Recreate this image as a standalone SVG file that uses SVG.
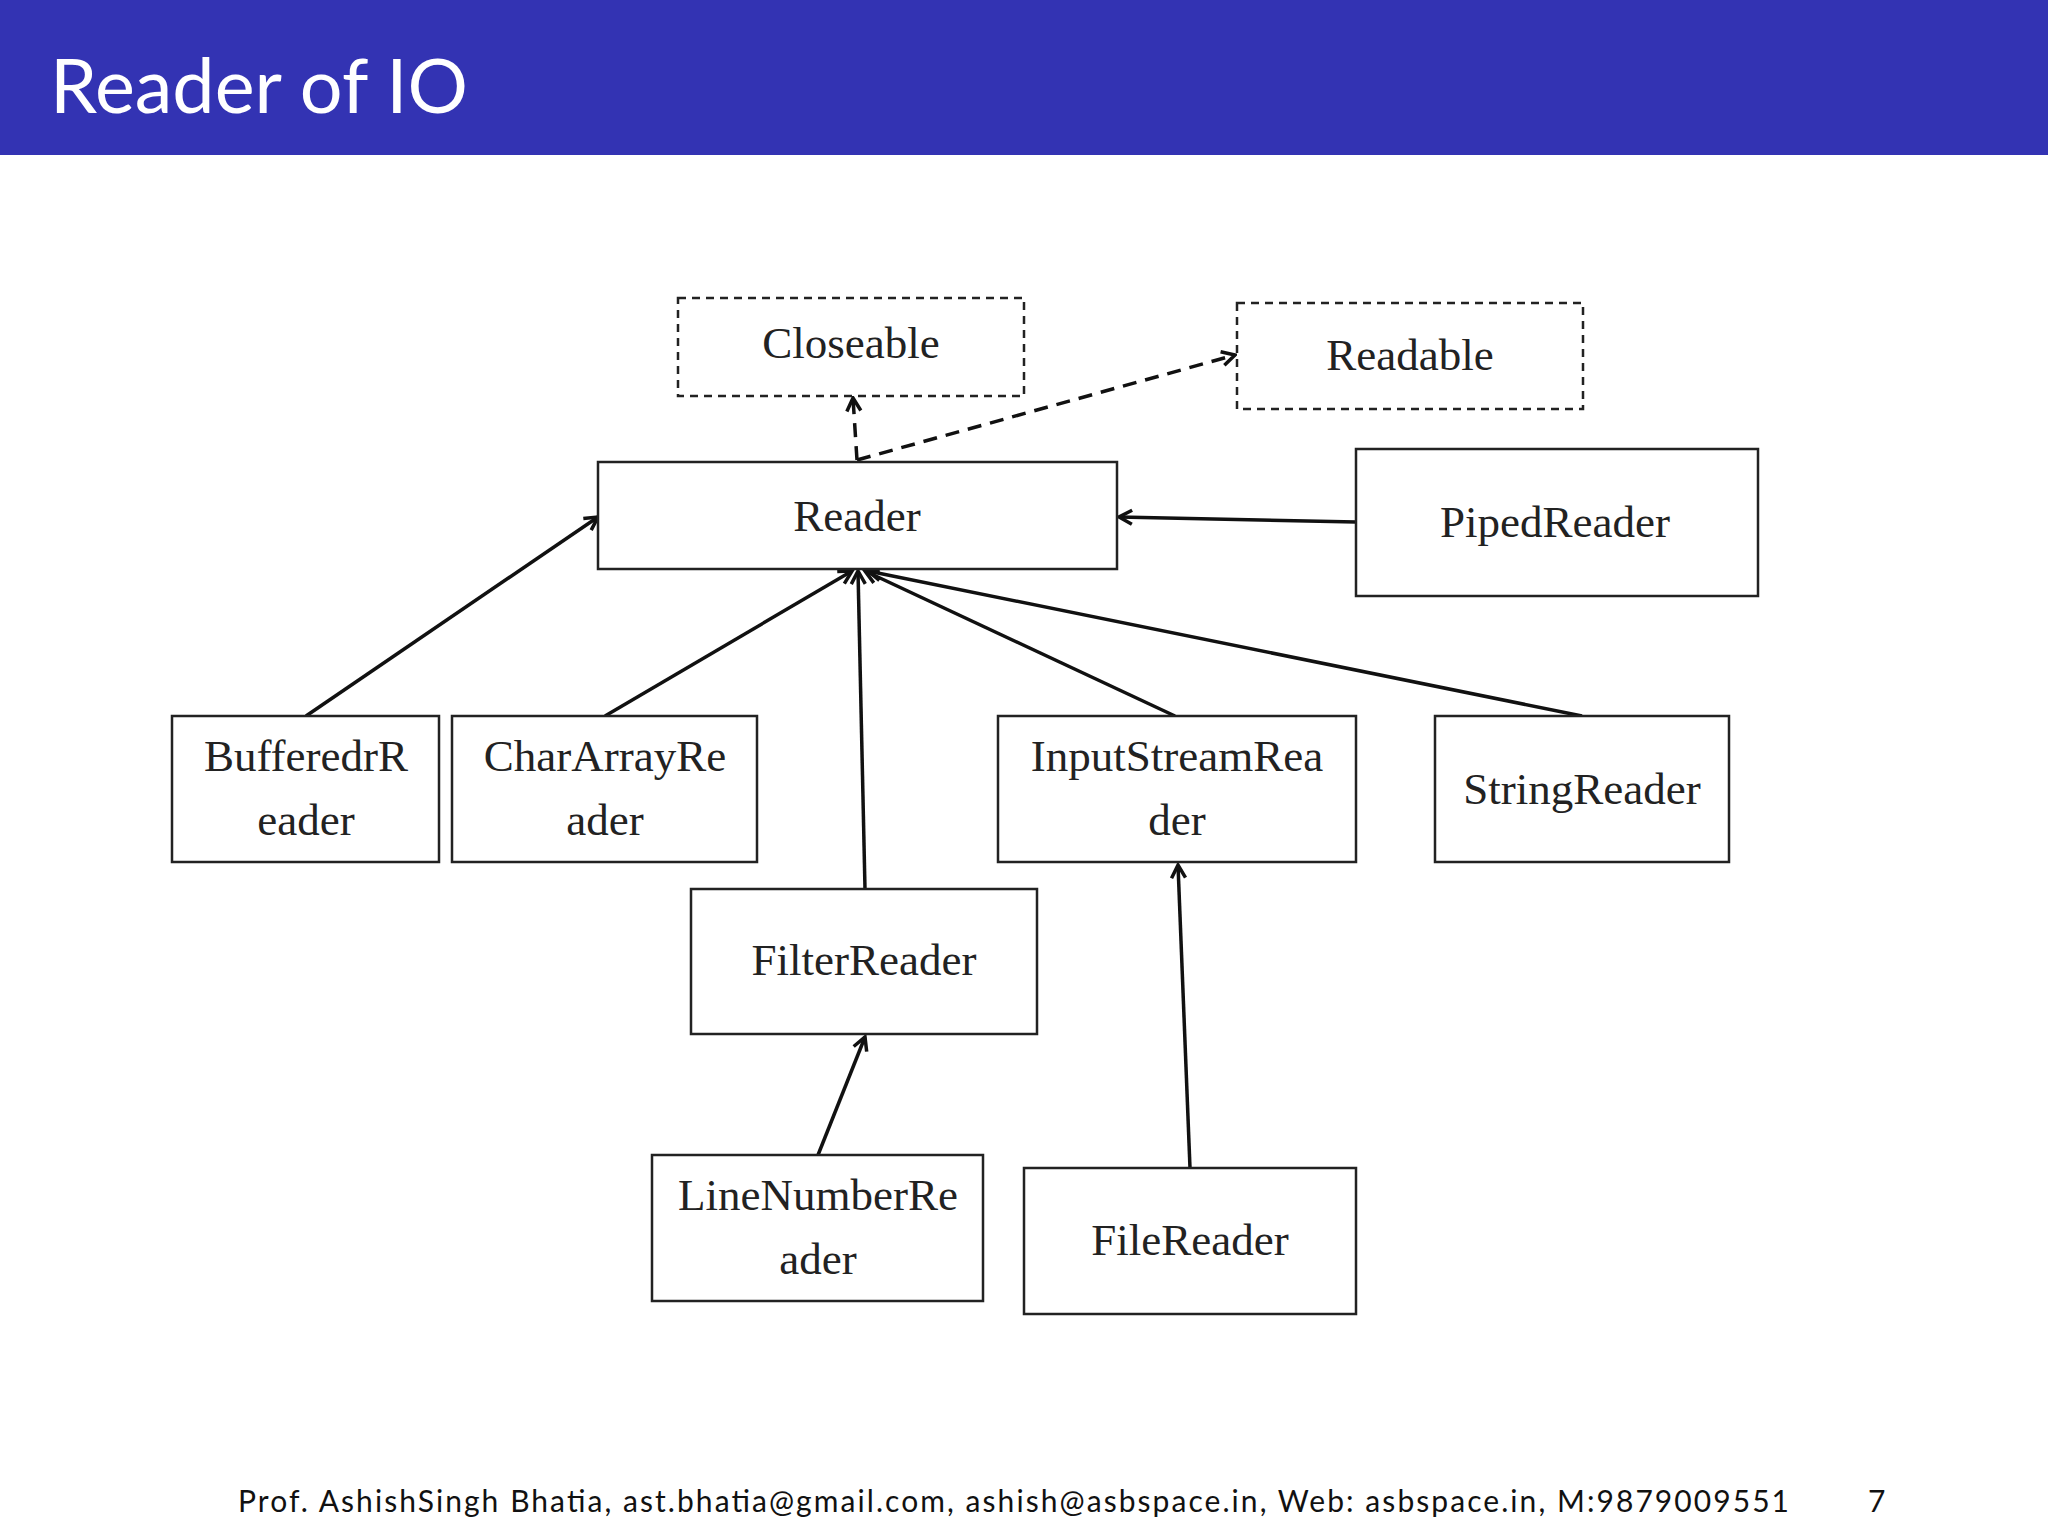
<svg xmlns="http://www.w3.org/2000/svg" width="2048" height="1536" viewBox="0 0 2048 1536">
<style>
.b{fill:#fff;stroke:#222;stroke-width:2.5}
.d{fill:#fff;stroke:#222;stroke-width:2.5;stroke-dasharray:8 6}
.t{font-family:"Liberation Serif",serif;font-size:45px;fill:#222;text-anchor:middle}
.c{stroke:#111;stroke-width:3.5;fill:none;marker-end:url(#a)}
.cd{stroke:#111;stroke-width:3.5;fill:none;stroke-dasharray:14 9;marker-end:url(#a)}
</style>
<defs><marker id="a" markerWidth="18" markerHeight="18" refX="15" refY="9" orient="auto" markerUnits="userSpaceOnUse"><path d="M2,2 L15,9 L2,16" fill="none" stroke="#111" stroke-width="3.5"/></marker></defs>
<rect width="2048" height="1536" fill="#fff"/>
<rect width="2048" height="155" fill="#3333b3"/>
<text x="50" y="113" font-family="Lato,'Liberation Sans',sans-serif" font-size="76" fill="#fff" textLength="418" lengthAdjust="spacingAndGlyphs">Reader of IO</text>
<g id="connectors">
<path class="cd" d="M857,460 L853,398"/>
<path class="cd" d="M857,460 L1235,355"/>
<path class="c" d="M1356,522 L1119,517"/>
<path class="c" d="M306,716 L598,517"/>
<path class="c" d="M605,716 L852,571"/>
<path class="c" d="M865,889 L858,571"/>
<path class="c" d="M1175,716 L865,571"/>
<path class="c" d="M1582,716 L868,571"/>
<path class="c" d="M818,1155 L865,1037"/>
<path class="c" d="M1190,1168 L1178,865"/>
</g>
<g id="closeable"><rect class="d" x="678" y="298" width="346" height="98"/><text class="t" x="851" y="358">Closeable</text></g>
<g id="readable"><rect class="d" x="1237" y="303" width="346" height="106"/><text class="t" x="1410" y="370">Readable</text></g>
<g id="reader"><rect class="b" x="598" y="462" width="519" height="107"/><text class="t" x="857" y="531">Reader</text></g>
<g id="piped"><rect class="b" x="1356" y="449" width="402" height="147"/><text class="t" x="1555" y="537">PipedReader</text></g>
<g id="buffered"><rect class="b" x="172" y="716" width="267" height="146"/><text class="t" x="306" y="771">BufferedrR</text><text class="t" x="306" y="835">eader</text></g>
<g id="chararray"><rect class="b" x="452" y="716" width="305" height="146"/><text class="t" x="605" y="771">CharArrayRe</text><text class="t" x="605" y="835">ader</text></g>
<g id="inputstream"><rect class="b" x="998" y="716" width="358" height="146"/><text class="t" x="1177" y="771">InputStreamRea</text><text class="t" x="1177" y="835">der</text></g>
<g id="string"><rect class="b" x="1435" y="716" width="294" height="146"/><text class="t" x="1582" y="804">StringReader</text></g>
<g id="filter"><rect class="b" x="691" y="889" width="346" height="145"/><text class="t" x="864" y="975">FilterReader</text></g>
<g id="linenumber"><rect class="b" x="652" y="1155" width="331" height="146"/><text class="t" x="818" y="1210">LineNumberRe</text><text class="t" x="818" y="1274">ader</text></g>
<g id="file"><rect class="b" x="1024" y="1168" width="332" height="146"/><text class="t" x="1190" y="1255">FileReader</text></g>
<text x="238" y="1512" font-family="Lato,'Liberation Sans',sans-serif" font-size="30" fill="#111" textLength="1551" lengthAdjust="spacing">Prof.  AshishSingh Bhatia, ast.bhatia@gmail.com, ashish@asbspace.in, Web:  asbspace.in, M:9879009551</text>
<text x="1868" y="1512" font-family="Lato,'Liberation Sans',sans-serif" font-size="30" fill="#111">7</text>
</svg>
